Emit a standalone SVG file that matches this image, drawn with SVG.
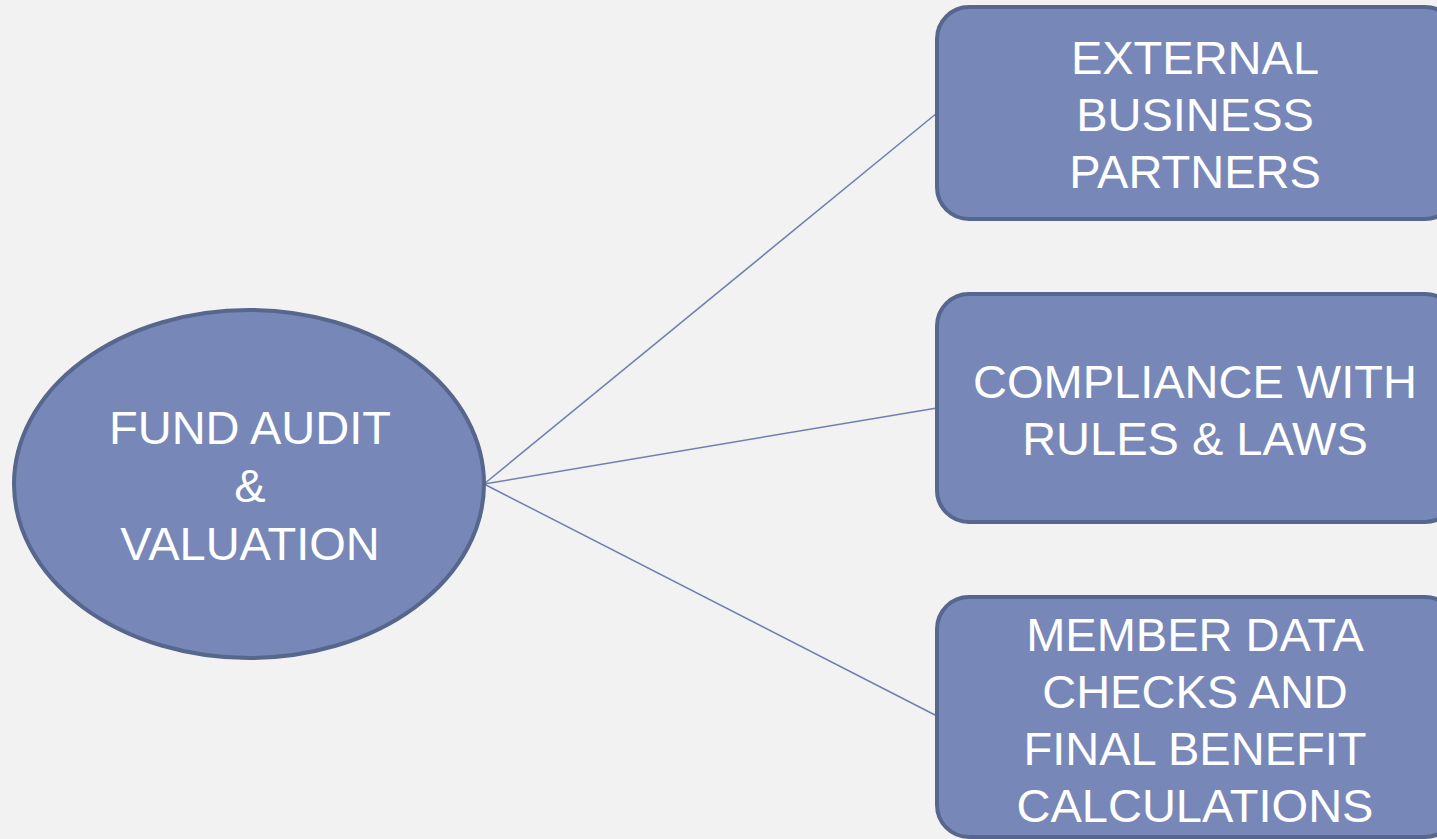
<svg xmlns="http://www.w3.org/2000/svg" width="1437" height="839" viewBox="0 0 1437 839">
  <style>
    .shape { fill: #7788b8; stroke: #56668c; stroke-width: 4; }
    .label { font-family: "Liberation Sans", Arial, sans-serif; font-size: 47px; fill: #ffffff; text-anchor: middle; }
    .link { stroke: #6f7fb0; stroke-width: 1.5; fill: none; }
  </style>
  <rect width="1437" height="839" fill="#f2f2f2"/>

  <g id="connectors">
    <line class="link" x1="484" y1="484" x2="937" y2="113"/>
    <line class="link" x1="484" y1="484" x2="937" y2="408"/>
    <line class="link" x1="484" y1="484" x2="937" y2="716"/>
  </g>

  <g id="fund-audit">
    <ellipse class="shape" cx="249" cy="484" rx="235" ry="174"/>
    <text class="label" x="250" y="444">FUND AUDIT</text>
    <text class="label" x="250" y="502">&amp;</text>
    <text class="label" x="250" y="560">VALUATION</text>
  </g>

  <g id="external-partners">
    <rect class="shape" x="937" y="7" width="520" height="212" rx="32"/>
    <text class="label" x="1195" y="74">EXTERNAL</text>
    <text class="label" x="1195" y="131">BUSINESS</text>
    <text class="label" x="1195" y="188">PARTNERS</text>
  </g>

  <g id="compliance">
    <rect class="shape" x="937" y="294" width="520" height="228" rx="32"/>
    <text class="label" x="1195" y="398">COMPLIANCE WITH</text>
    <text class="label" x="1195" y="455">RULES &amp; LAWS</text>
  </g>

  <g id="member-data">
    <rect class="shape" x="937" y="597" width="520" height="240" rx="32"/>
    <text class="label" x="1195" y="651">MEMBER DATA</text>
    <text class="label" x="1195" y="708">CHECKS AND</text>
    <text class="label" x="1195" y="765">FINAL BENEFIT</text>
    <text class="label" x="1195" y="822">CALCULATIONS</text>
  </g>
</svg>
